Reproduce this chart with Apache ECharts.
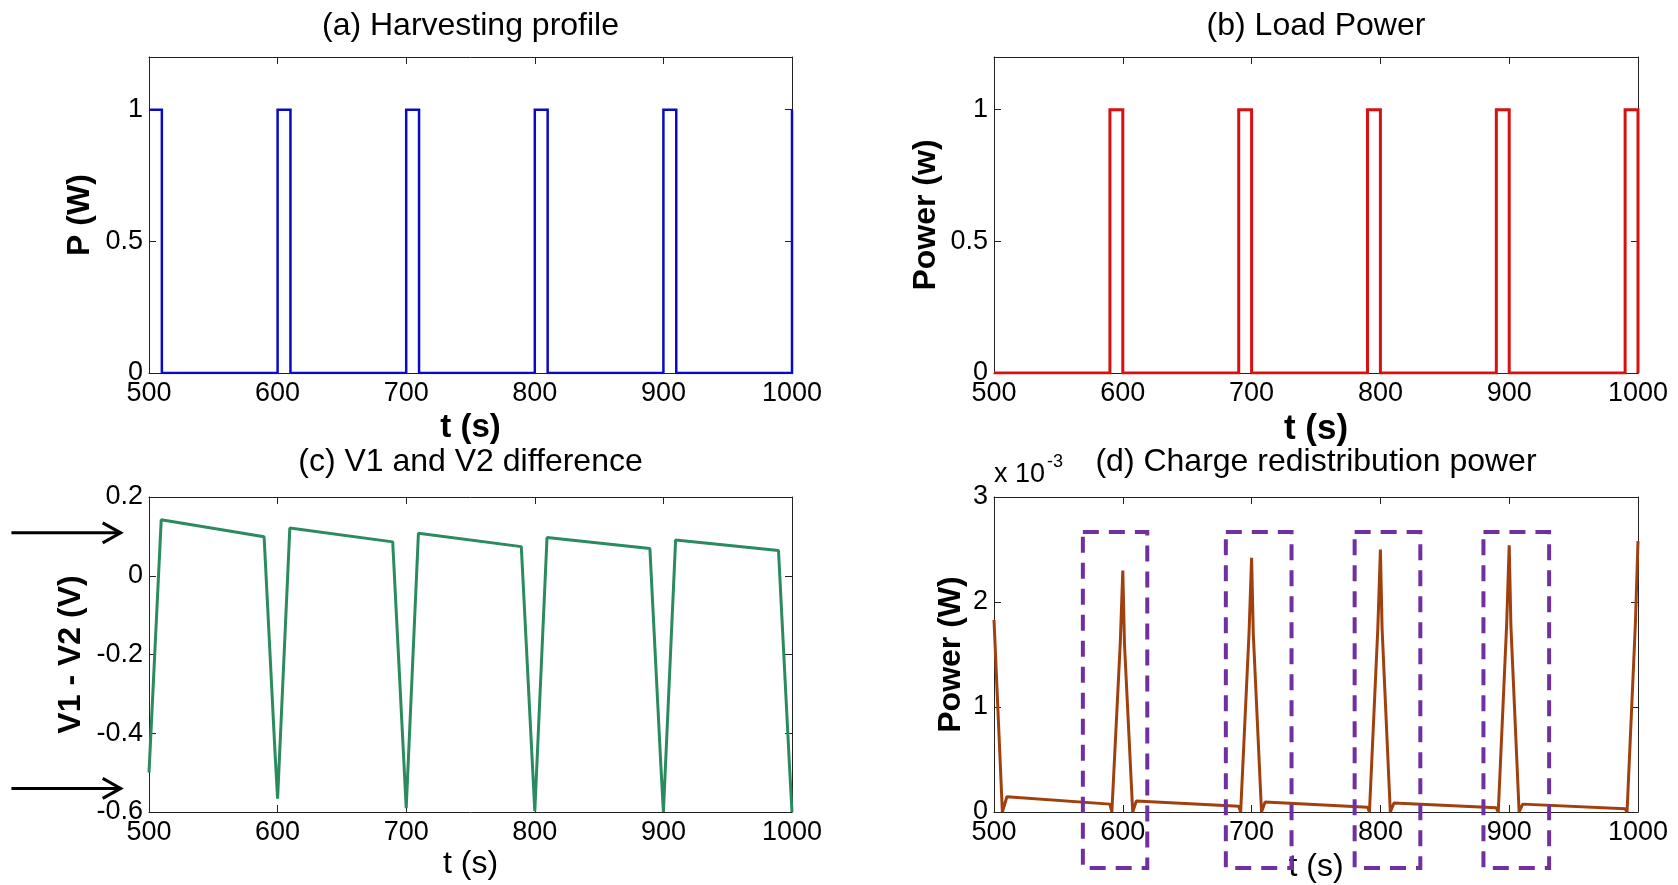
<!DOCTYPE html>
<html>
<head>
<meta charset="utf-8">
<title>Energy harvesting simulation</title>
<script src="https://cdn.jsdelivr.net/npm/echarts@6/dist/echarts.min.js"></script>
<style>
  html, body { margin: 0; padding: 0; background: #ffffff; }
  #chart { width: 1678px; height: 885px; }
</style>
</head>
<body>
<div id="chart"></div>
<script>
const FONT = '"Liberation Sans", Arial, Helvetica, sans-serif';

// ---- data ----
// time axis ticks (s)
const timeTicks = [500, 600, 700, 800, 900, 1000];

// (a) harvesting profile, P (W)
const harvestT = [500, 510, 510, 600, 600, 610, 610, 700, 700, 710, 710, 800, 800, 810, 810, 900, 900, 910, 910, 1000, 1000];
const harvestP = [1, 1, 0, 0, 1, 1, 0, 0, 1, 1, 0, 0, 1, 1, 0, 0, 1, 1, 0, 0, 1];

// (b) load power (w)
const loadT = [500, 590, 590, 600, 600, 690, 690, 700, 700, 790, 790, 800, 800, 890, 890, 900, 900, 990, 990, 1000, 1000];
const loadP = [0, 0, 1, 1, 0, 0, 1, 1, 0, 0, 1, 1, 0, 0, 1, 1, 0, 0, 1, 1, 0];
const powerTicks = [0, 0.5, 1];

// (c) V1 - V2 (V)
const diffT = [500, 509.5, 589.5, 598, 600, 609.5, 689.5, 698, 700, 709.5, 789.5, 798, 800, 809.5, 889.5, 898, 900, 909.5, 989.5, 998, 1000];
const diffV = [-0.50, 0.142, 0.099, -0.45, -0.566, 0.121, 0.086, -0.46, -0.59, 0.108, 0.074, -0.47, -0.598, 0.097, 0.069, -0.48, -0.60, 0.091, 0.064, -0.48, -0.60];
const diffTicks = [-0.6, -0.4, -0.2, 0, 0.2];
// levels marked with arrows left of panel (c)
const arrowSpan = [393, 478];
const arrowLevels = [0.109, -0.54];

// (d) charge redistribution power, in units of 10^-3 W
const chargeT = [500, 506.5, 510, 590, 591.5, 598, 600, 601.3, 607.7, 610.5,
                 690, 691.5, 698, 700, 701.3, 707.7, 710.5,
                 790, 791.5, 798, 800, 801.3, 807.7, 810.5,
                 890, 891.5, 898, 900, 901.3, 907.7, 910.5,
                 990, 991.5, 998, 1000];
const chargeP = [1.83, 0, 0.145, 0.075, 0, 1.6, 2.30, 1.6, 0, 0.105,
                 0.055, 0, 1.7, 2.42, 1.7, 0, 0.095,
                 0.045, 0, 1.75, 2.50, 1.75, 0, 0.085,
                 0.04, 0, 1.78, 2.54, 1.78, 0, 0.075,
                 0.03, 0, 1.8, 2.58];
const chargeTicks = [0, 1, 2, 3];
// dashed boxes around the redistribution peaks: [t start, t end]
const boxSpans = [[569, 619], [680, 731], [780, 831], [880, 931]];
const boxLevels = [2.667, -0.533];

const zip = (xs, ys) => xs.map((x, i) => [x, ys[i]]);

// ---- layout ----
const panels = [
  { left: 149, top: 57, width: 643, height: 316, title: '(a) Harvesting profile', titleTop: 10,
    xName: 't (s)', xBold: true, xSize: 33, xGap: 38, yName: 'P (W)', yGap: 53,
    ymin: 0, ymax: 1.2, yticks: powerTicks },
  { left: 994, top: 57, width: 644, height: 316, title: '(b) Load Power', titleTop: 10,
    xName: 't (s)', xBold: true, xSize: 35, xGap: 39, yName: 'Power (w)', yGap: 52,
    ymin: 0, ymax: 1.2, yticks: powerTicks },
  { left: 149, top: 497, width: 643, height: 315, title: '(c) V1 and V2 difference', titleTop: 446,
    xName: 't (s)', xBold: false, xSize: 32, xGap: 36, yName: 'V1 - V2 (V)', yGap: 62,
    ymin: -0.6, ymax: 0.2, yticks: diffTicks },
  { left: 994, top: 497, width: 644, height: 315, title: '(d) Charge redistribution power', titleTop: 446,
    xName: 't (s)', xBold: false, xSize: 32, xGap: 39, yName: 'Power (W)', yGap: 27,
    ymin: 0, ymax: 3, yticks: chargeTicks }
];

const AXIS_COLOR = '#222';
const tickLabel = { color: '#000', fontFamily: FONT, fontSize: 27 };
const axisLine = { show: true, onZero: false, lineStyle: { color: AXIS_COLOR, width: 1 } };
const plain = v => String(Math.round(v * 100) / 100);

const grid = [], xAxis = [], yAxis = [], title = [];
panels.forEach((p, i) => {
  grid.push({ left: p.left, top: p.top, width: p.width, height: p.height, containLabel: false });
  title.push({
    text: p.title, left: p.left + p.width / 2, top: p.titleTop, textAlign: 'center', padding: 0,
    textStyle: { fontFamily: FONT, fontSize: 32, fontWeight: 'normal', color: '#000' }
  });
  const step = p.yticks[1] - p.yticks[0];
  const fmt = v => p.yticks.some(t => Math.abs(t - v) < 1e-9) ? plain(v) : '';
  // bottom time axis with labels
  xAxis.push({
    type: 'value', gridIndex: i, position: 'bottom', min: 500, max: 1000, interval: 100,
    name: p.xName, nameLocation: 'middle', nameGap: p.xGap,
    nameTextStyle: { fontFamily: FONT, fontSize: p.xSize, fontWeight: p.xBold ? 'bold' : 'normal', color: '#000' },
    axisLine: axisLine,
    axisTick: { show: true, inside: true, length: 7, lineStyle: { color: AXIS_COLOR } },
    axisLabel: Object.assign({ margin: 7, customValues: timeTicks, formatter: plain }, tickLabel),
    splitLine: { show: false }
  });
  // top mirror of the time axis (ticks only)
  xAxis.push({
    type: 'value', gridIndex: i, position: 'top', min: 500, max: 1000, interval: 100,
    axisLine: axisLine,
    axisTick: { show: true, inside: true, length: 7, lineStyle: { color: AXIS_COLOR } },
    axisLabel: { show: false }, splitLine: { show: false }
  });
  yAxis.push({
    type: 'value', gridIndex: i, position: 'left', min: p.ymin, max: p.ymax, interval: step,
    name: p.yName, nameLocation: 'middle', nameGap: p.yGap, nameRotate: 90,
    nameTextStyle: { fontFamily: FONT, fontSize: 32, fontWeight: 'bold', color: '#000' },
    axisLine: axisLine,
    axisTick: { show: true, inside: true, length: 7, customValues: p.yticks, lineStyle: { color: AXIS_COLOR } },
    axisLabel: Object.assign({ margin: 6, customValues: p.yticks, formatter: fmt }, tickLabel),
    splitLine: { show: false }
  });
  // right mirror of the value axis (ticks only)
  yAxis.push({
    type: 'value', gridIndex: i, position: 'right', min: p.ymin, max: p.ymax, interval: step,
    axisLine: axisLine,
    axisTick: { show: true, inside: true, length: 7, customValues: p.yticks, lineStyle: { color: AXIS_COLOR } },
    axisLabel: { show: false }, splitLine: { show: false }
  });
});

function lineSeries(i, data, color, width, join) {
  return {
    type: 'line', xAxisIndex: 2 * i, yAxisIndex: 2 * i, data: data,
    showSymbol: false, symbol: 'none', silent: true,
    lineStyle: { color: color, width: width, join: join || 'bevel' }
  };
}

// dashed box around a peak, extending below the time axis
function renderBox(params, api) {
  const a = api.coord([api.value(0), api.value(2)]);
  const b = api.coord([api.value(1), api.value(3)]);
  return {
    type: 'rect',
    shape: { x: a[0], y: a[1], width: b[0] - a[0], height: b[1] - a[1] },
    style: { fill: 'none', stroke: '#7030a0', lineWidth: 4, lineDash: [16, 10] }
  };
}

// horizontal arrow pointing at a voltage level
function renderArrow(params, api) {
  const a = api.coord([api.value(0), api.value(2)]);
  const b = api.coord([api.value(1), api.value(2)]);
  return {
    type: 'group',
    children: [
      { type: 'line', shape: { x1: a[0], y1: a[1], x2: b[0], y2: b[1] },
        style: { stroke: '#000', lineWidth: 3 } },
      { type: 'polyline', shape: { points: [[b[0] - 18, b[1] - 10], [b[0], b[1]], [b[0] - 18, b[1] + 10]] },
        style: { stroke: '#000', lineWidth: 3, fill: 'none' } }
    ]
  };
}

const series = [
  lineSeries(0, zip(harvestT, harvestP), '#0a0ac4', 2.5, 'miter'),
  lineSeries(1, zip(loadT, loadP), '#d81010', 3, 'miter'),
  lineSeries(2, zip(diffT, diffV), '#2b8a5e', 3),
  lineSeries(3, zip(chargeT, chargeP), '#a0400e', 3),
  {
    type: 'custom', xAxisIndex: 4, yAxisIndex: 4, clip: false, silent: true, z: 5,
    renderItem: renderArrow,
    encode: { x: [0, 1], y: 2 },
    data: arrowLevels.map(v => [arrowSpan[0], arrowSpan[1], v])
  },
  {
    type: 'custom', xAxisIndex: 6, yAxisIndex: 6, clip: false, silent: true, z: 5,
    renderItem: renderBox,
    encode: { x: [0, 1], y: [2, 3] },
    data: boxSpans.map(s => [s[0], s[1], boxLevels[0], boxLevels[1]])
  }
];

const chart = echarts.init(document.getElementById('chart'), null, { renderer: 'canvas' });
chart.setOption({
  backgroundColor: '#ffffff',
  animation: false,
  title: title,
  grid: grid,
  xAxis: xAxis,
  yAxis: yAxis,
  series: series,
  graphic: [
    // exponent of the power axis in (d)
    { type: 'text', left: 994, top: 461, silent: true,
      style: { text: 'x 10', fontFamily: FONT, fontSize: 27, fill: '#000' } },
    { type: 'text', left: 1047, top: 453, silent: true,
      style: { text: '-3', fontFamily: FONT, fontSize: 18, fill: '#000' } }
  ]
});
</script>
</body>
</html>
